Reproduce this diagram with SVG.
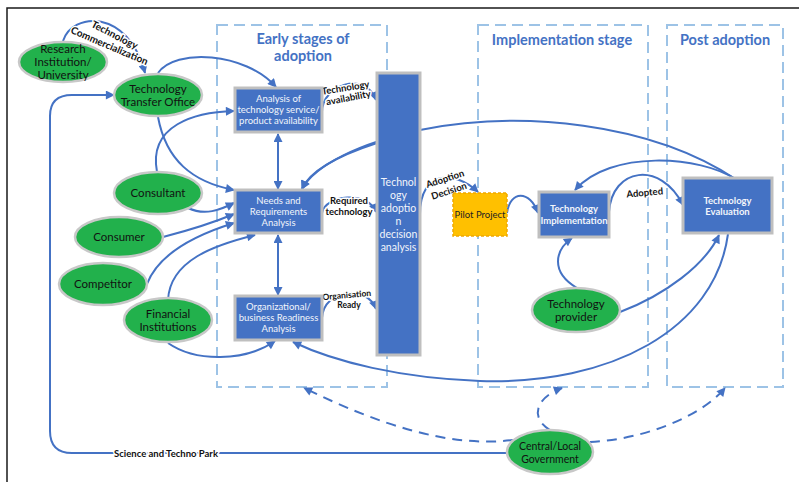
<svg xmlns="http://www.w3.org/2000/svg" width="799" height="482" viewBox="0 0 799 482">
  <style>
    .frame { fill: none; stroke: #1a1a1a; stroke-width: 1.5; }
    .stage { fill: none; stroke: #9DC3E6; stroke-width: 2; stroke-dasharray: 11 6; }
    .title { font-family: Lato, "Open Sans", sans-serif; font-weight: bold; font-size: 14.5px; fill: #4472C4; text-anchor: middle; }
    .actor ellipse { fill: #22B14C; stroke: #C8C8C8; stroke-width: 2.5; }
    .actor text { font-family: Lato, "Open Sans", sans-serif; font-size: 11.5px; fill: #111; text-anchor: middle; }
    .step rect { fill: #4472C4; stroke: #BFBFBF; stroke-width: 3; }
    .step text { font-family: Lato, "Open Sans", sans-serif; font-size: 9.5px; fill: #F2F5FB; text-anchor: middle; }
    .step text.b { font-weight: bold; font-size: 9.5px; }
    .step text.tall { font-size: 10.5px; }
    .pilot rect { fill: #FFC000; stroke: #F0A800; stroke-width: 1.5; stroke-dasharray: 3 2; }
    .pilot text { font-family: Lato, "Open Sans", sans-serif; font-size: 9.5px; fill: #222; text-anchor: middle; }
    .link { fill: none; stroke: #4472C4; stroke-width: 2; }
    .dash { stroke-dasharray: 10 7; }
    .lbl { font-family: Lato, "Open Sans", sans-serif; font-weight: bold; font-size: 9.5px; fill: #111; text-anchor: middle; stroke: #fff; stroke-width: 3; paint-order: stroke; stroke-linejoin: round; }
  </style>
  <defs>
    <marker id="arr" viewBox="0 0 10 10" refX="9" refY="5" markerWidth="11" markerHeight="9" markerUnits="userSpaceOnUse" orient="auto-start-reverse">
      <path d="M0,0 L10,5 L0,10 z" fill="#4472C4"/>
    </marker>
  </defs>

  <rect width="799" height="482" fill="#fff"/>
  <!-- outer frame -->
  <path class="frame" d="M7,482 V8 H799"/>

  <!-- stage boundaries -->
  <g id="stages">
    <rect class="stage" x="217" y="25" width="170" height="362"/>
    <rect class="stage" x="478" y="25" width="170" height="362"/>
    <rect class="stage" x="667" y="25" width="116" height="362"/>
    <text class="title" x="303" y="44">Early stages of</text>
    <text class="title" x="303" y="61">adoption</text>
    <text class="title" x="562" y="45">Implementation stage</text>
    <text class="title" x="725" y="45">Post adoption</text>
  </g>

  <!-- connectors -->
  <g id="connectors">
    <!-- long feedback from evaluation to needs analysis (passes behind decision box) -->
    <path class="link" d="M737,180 C650,122 520,110 420,130 C360,143 315,165 302,189" marker-end="url(#arr)"/>
    <!-- evaluation back to readiness analysis -->
    <path class="link" d="M728,234 C715,330 610,385 480,381 C400,378 335,362 293,342" marker-end="url(#arr)"/>
    <path class="link" d="M63,41 C72,12 128,8 145,73" marker-end="url(#arr)"/>
    <path class="link" d="M158,73 C175,48 245,52 276,87" marker-end="url(#arr)"/>
    <path class="link" d="M507,453 H72 Q50,453 50,431 V116 Q50,95 72,95 H114" marker-end="url(#arr)"/>
    <path class="link" d="M158,117 C166,160 192,182 234,190" marker-end="url(#arr)"/>
    <path class="link" d="M157,172 C148,125 195,112 234,111" marker-end="url(#arr)"/>
    <path class="link" d="M188,208 C205,216 220,210 234,203" marker-end="url(#arr)"/>
    <path class="link" d="M163,237 C190,230 215,222 234,214" marker-end="url(#arr)"/>
    <path class="link" d="M147,284 C160,250 205,232 234,223" marker-end="url(#arr)"/>
    <path class="link" d="M168,300 C170,260 215,245 255,235" marker-end="url(#arr)"/>
    <path class="link" d="M168,343 C195,362 245,362 275,341" marker-end="url(#arr)"/>
    <path class="link" d="M278,134 V189" marker-start="url(#arr)" marker-end="url(#arr)"/>
    <path class="link" d="M278,235 V295" marker-start="url(#arr)" marker-end="url(#arr)"/>
    <path class="link" d="M322,112 C322,85 365,70 376,100" marker-end="url(#arr)"/>
    <path class="link" d="M322,213 C325,195 368,190 376,212" marker-end="url(#arr)"/>
    <path class="link" d="M322,318 C324,288 368,285 376,309" marker-end="url(#arr)"/>
    <path class="link" d="M377,143 C340,155 310,170 302,189" marker-end="url(#arr)"/>
    <path class="link" d="M420,214 C420,170 455,170 478,192" marker-end="url(#arr)"/>
    <path class="link" d="M507,213 C510,190 530,190 538,213" marker-end="url(#arr)"/>
    <path class="link" d="M609,212 C612,168 660,160 683,205" marker-end="url(#arr)"/>
    <path class="link" d="M737,180 C700,155 610,150 575,190" marker-end="url(#arr)"/>
    <path class="link" d="M577,288 C550,272 555,250 572,238" marker-end="url(#arr)"/>
    <path class="link" d="M620,312 C665,295 705,265 719,235" marker-end="url(#arr)"/>
    <path class="link dash" d="M513,440 C450,448 380,425 304,388" marker-end="url(#arr)"/>
    <path class="link dash" d="M550,430 C530,418 535,398 562,388" marker-end="url(#arr)"/>
    <path class="link dash" d="M590,442 C640,440 700,418 725,388" marker-end="url(#arr)"/>

    <text class="lbl" style="font-size:10px" transform="translate(113,38) rotate(27)">Technology</text>
    <text class="lbl" style="font-size:10px" transform="translate(108,49) rotate(23)">Commercialization</text>
    <text class="lbl" x="166" y="457">Science and Techno Park</text>
    <text class="lbl" transform="translate(346,91) rotate(-9)">Technology</text>
    <text class="lbl" transform="translate(349,101) rotate(-11)">availability</text>
    <text class="lbl" x="349" y="204">Required</text>
    <text class="lbl" x="349" y="215">technology</text>
    <text class="lbl" style="font-size:8.5px" transform="translate(347,298) rotate(-5)">Organisation</text>
    <text class="lbl" style="font-size:8.5px" x="349" y="308">Ready</text>
    <text class="lbl" transform="translate(446,182) rotate(-18)">Adoption</text>
    <text class="lbl" transform="translate(450,194) rotate(-18)">Decision</text>
    <text class="lbl" transform="translate(645,196) rotate(-5)">Adopted</text>
  </g>

  <!-- external actors -->
  <g id="research" class="actor">
    <ellipse cx="63" cy="62" rx="44" ry="20"/>
    <text x="63" y="53">Research</text>
    <text x="63" y="66">Institution/</text>
    <text x="63" y="79">University</text>
  </g>
  <g id="tto" class="actor">
    <ellipse cx="158" cy="95" rx="44" ry="21"/>
    <text x="158" y="93">Technology</text>
    <text x="158" y="106">Transfer Office</text>
  </g>
  <g id="consultant" class="actor">
    <ellipse cx="158" cy="193" rx="44" ry="21"/>
    <text x="158" y="197">Consultant</text>
  </g>
  <g id="consumer" class="actor">
    <ellipse cx="119" cy="237" rx="44" ry="20"/>
    <text x="119" y="241">Consumer</text>
  </g>
  <g id="competitor" class="actor">
    <ellipse cx="103" cy="284" rx="44" ry="21"/>
    <text x="103" y="288">Competitor</text>
  </g>
  <g id="financial" class="actor">
    <ellipse cx="168" cy="320" rx="44" ry="22"/>
    <text x="168" y="318">Financial</text>
    <text x="168" y="331">Institutions</text>
  </g>
  <g id="provider" class="actor">
    <ellipse cx="576" cy="310" rx="44" ry="22"/>
    <text x="576" y="308">Technology</text>
    <text x="576" y="321">provider</text>
  </g>
  <g id="government" class="actor">
    <ellipse cx="550" cy="452" rx="43" ry="22"/>
    <text x="550" y="450" style="font-size:10.5px">Central/Local</text>
    <text x="550" y="463" style="font-size:10.5px">Government</text>
  </g>

  <!-- process steps -->
  <g id="availability" class="step">
    <rect x="235" y="88" width="87" height="44"/>
    <text x="278.5" y="102">Analysis of</text>
    <text x="278.5" y="113">technology service/</text>
    <text x="278.5" y="124">product availability</text>
  </g>
  <g id="needs" class="step">
    <rect x="235" y="190" width="87" height="43"/>
    <text x="278.5" y="204">Needs and</text>
    <text x="278.5" y="215">Requirements</text>
    <text x="278.5" y="226">Analysis</text>
  </g>
  <g id="readiness" class="step">
    <rect x="235" y="296" width="87" height="44"/>
    <text x="278.5" y="310">Organizational/</text>
    <text x="278.5" y="321">business Readiness</text>
    <text x="278.5" y="332">Analysis</text>
  </g>
  <g id="decision" class="step">
    <rect x="377" y="73" width="43" height="282"/>
    <text class="tall" x="398.5" y="186">Technol</text>
    <text class="tall" x="398.5" y="199">ogy</text>
    <text class="tall" x="398.5" y="212">adoptio</text>
    <text class="tall" x="398.5" y="225">n</text>
    <text class="tall" x="398.5" y="238">decision</text>
    <text class="tall" x="398.5" y="251">analysis</text>
  </g>
  <g id="pilot" class="pilot">
    <rect x="453" y="193" width="54" height="43"/>
    <text x="480" y="218">Pilot Project</text>
  </g>
  <g id="implementation" class="step">
    <rect x="539" y="192" width="70" height="45"/>
    <text class="b" x="574" y="212">Technology</text>
    <text class="b" x="574" y="224">Implementation</text>
  </g>
  <g id="evaluation" class="step">
    <rect x="683" y="178" width="89" height="55"/>
    <text class="b" x="727.5" y="204">Technology</text>
    <text class="b" x="727.5" y="215">Evaluation</text>
  </g>
</svg>
